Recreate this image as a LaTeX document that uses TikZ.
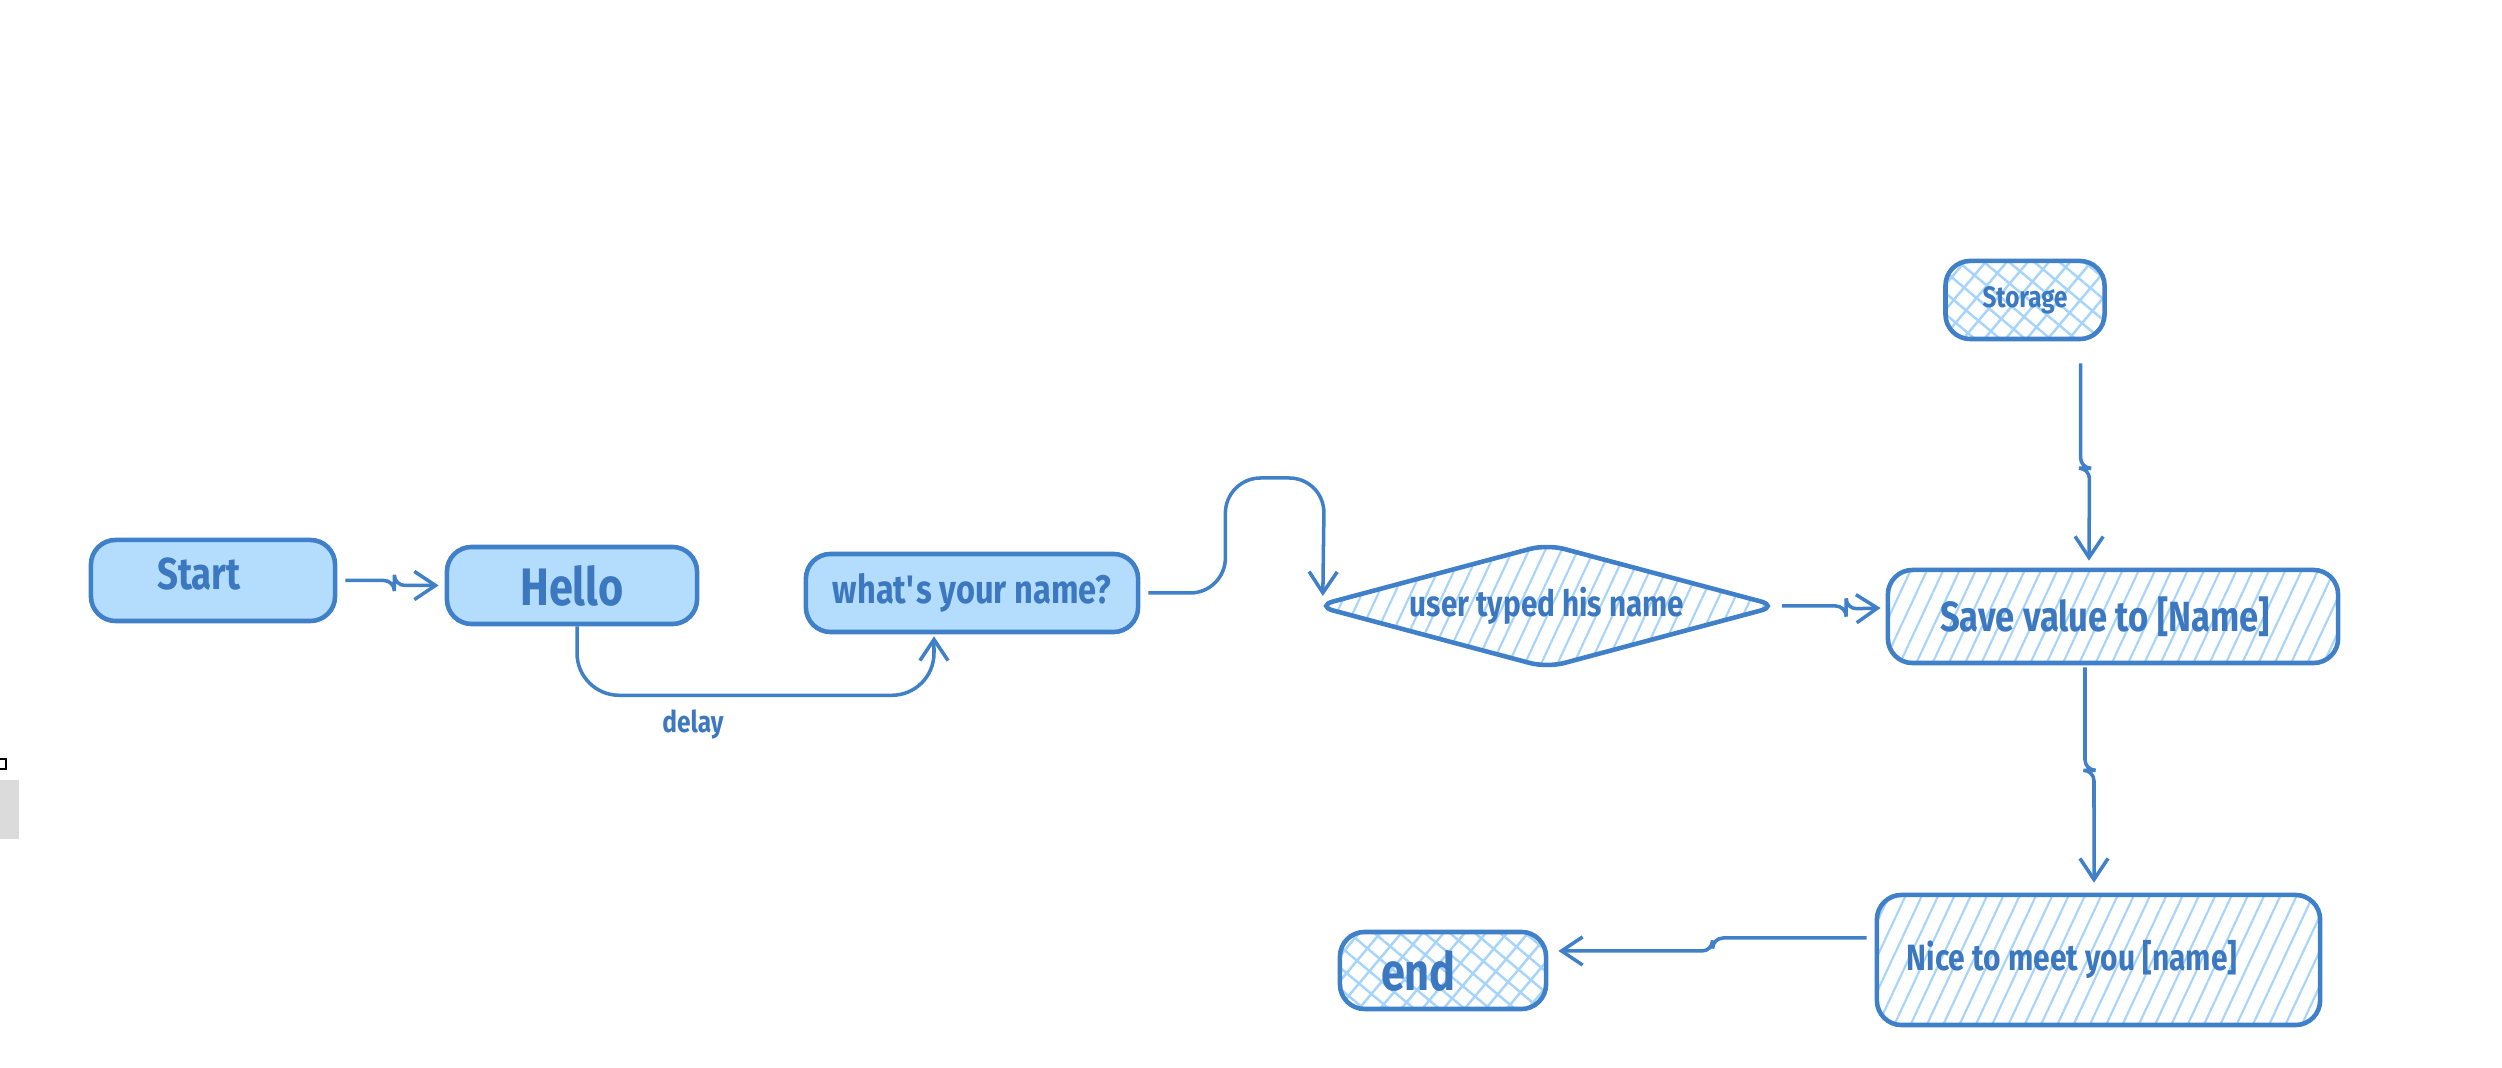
\documentclass[tikz,border=0pt]{standalone}
\usepackage{fontspec}
\setmainfont{Fira Sans}[BoldFont={Fira Sans Bold},BoldFeatures={FakeStretch=0.82}]
\usetikzlibrary{arrows.meta,shapes.geometric,patterns.meta,calc}
\definecolor{ink}{HTML}{4080C8}
\definecolor{txt}{HTML}{3B78C0}
\definecolor{fillb}{HTML}{B4DCFC}
\definecolor{hatchc}{HTML}{A6D4FA}
\tikzset{
  box/.style={draw=ink, line width=1.3pt, rounded corners=7pt, inner sep=0pt,
    text=txt, font=\bfseries, align=center},
  solidbox/.style={box, fill=fillb},
  linebox/.style={box, pattern={Lines[angle=65,distance=4.2pt,line width=0.6pt]}, pattern color=hatchc},
  crossbox/.style={box, pattern={Hatch[angle=50,distance=4.6pt,line width=0.7pt]}, pattern color=hatchc},
  conn/.style={draw=ink, line width=1pt, rounded corners=3pt,
    -{Straight Barb[length=6pt,width=8pt,line width=1pt]}},
}
\begin{document}
\begin{tikzpicture}[x=0.01cm,y=-0.01cm]
\useasboundingbox (0,0) rectangle (2502,1068);
% UI artifacts at the left edge
\fill[gray!28] (0,780) rectangle (19,839);
\draw[black, line width=0.6pt] (-4,759) rectangle (6,769);

\node[solidbox, minimum width=2.44cm, minimum height=0.81cm, font=\bfseries\fontsize{12.7}{14}\selectfont] (start) at (213,580.5) {\raisebox{4pt}{\kern-4pt Start\kern4pt}};
\node[solidbox, minimum width=2.50cm, minimum height=0.77cm, font=\bfseries\fontsize{15}{17}\selectfont] (hello) at (572,585.5) {Hello};
\node[solidbox, minimum width=3.32cm, minimum height=0.78cm, font=\bfseries\fontsize{11.3}{13}\selectfont] (what) at (972,593) {what\textquotesingle s your name?};
\node[linebox, shape=diamond, aspect=3.65, rounded corners=5pt, minimum width=4.62cm, minimum height=1.24cm, font=\bfseries\fontsize{10.3}{12}\selectfont] (diam) at (1547,606) {user typed his name};
\node[linebox, minimum width=4.50cm, minimum height=0.93cm, font=\bfseries\fontsize{12}{14}\selectfont] (save) at (2113,616.5) {\kern-2.3pt Save value to [Name]\kern2.3pt};
\node[crossbox, minimum width=1.59cm, minimum height=0.78cm, font=\bfseries\fontsize{8.4}{10}\selectfont] (storage) at (2025,300) {Storage};
\node[linebox, minimum width=4.43cm, minimum height=1.30cm, font=\bfseries\fontsize{10.4}{12}\selectfont] (nice) at (2098.5,960) {\kern-7.5pt\raisebox{-2pt}{Nice to meet you [name]}\kern7.5pt};
\node[crossbox, minimum width=2.06cm, minimum height=0.77cm, font=\bfseries\fontsize{15}{17}\selectfont] (endn) at (1443,970.5) {\kern-7pt\raisebox{-2pt}{end}\kern7pt};
\node[text=txt, font=\bfseries\fontsize{8.5}{10}\selectfont] (delay) at (693,724) {delay};

% connectors
\draw[conn] ([xshift=0.08cm]start.east) -- ++(49,0) -- ++(0,5) -- ([xshift=-0.06cm]hello.west);
\draw[conn, rounded corners=12pt] ([xshift=0.05cm]hello.south) -- ++(0,69) -- ++(357,0) -- ([xshift=-0.38cm,yshift=-0.02cm]what.south);
\draw[conn, rounded corners=10pt] ([xshift=0.08cm]what.east) -- ++(77,0) -- ++(0,-115) -- ++(99,0) -- ([xshift=0.08cm,yshift=0.1cm]diam.west);
\draw[conn] ([xshift=0.03cm]diam.east) -- ++(64,0) -- ++(0,3) -- ([xshift=-0.05cm,yshift=0.085cm]save.west);
\draw[conn] ([xshift=0.555cm,yshift=-0.23cm]storage.south) -- ++(0,105) -- ++(9,0) -- ([xshift=-0.24cm,yshift=0.07cm]save.north);
\draw[conn] ([xshift=-0.28cm,yshift=-0.02cm]save.south) -- ++(0,103) -- ++(9,0) -- ([xshift=-0.045cm,yshift=0.1cm]nice.north);
\draw[conn] ([xshift=-0.08cm,yshift=0.22cm]nice.west) -- ++(-154,0) -- ++(0,13) -- ([xshift=0.1cm,yshift=0.195cm]endn.east);
\end{tikzpicture}
\end{document}
